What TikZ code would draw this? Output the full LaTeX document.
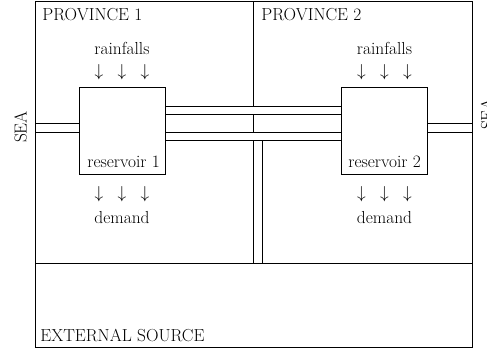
\documentclass[tikz,border=0pt]{standalone}
\begin{document}
\begin{tikzpicture}[x=1pt,y=-1pt, line width=0.7pt,
  txt/.style={font=\fontsize{17.4}{20}\selectfont, inner sep=0pt, anchor=base},
  resbox/.style={draw, minimum width=86pt, minimum height=87pt, inner sep=0pt}]
\useasboundingbox (0,0) rectangle (487,356);
% frame and dividers
\draw (35,1) rectangle (472,347);
\draw (35,263) -- (472,263);
\draw (253,1) -- (253,106);
\draw (253,114) -- (253,132);
% reservoirs
\node[resbox] (r1) at (122,130.5) {};
\node[resbox] (r2) at (384.5,130.5) {};
% sea pipes
\draw (35,123) -- (r1.west |- 0,123);
\draw (35,132) -- (r1.west |- 0,132);
\draw (r2.east |- 0,123) -- (472,123);
\draw (r2.east |- 0,132) -- (472,132);
% connecting pipes
\draw (r1.east |- 0,106) -- (r2.west |- 0,106);
\draw (r1.east |- 0,114) -- (r2.west |- 0,114);
\draw (r1.east |- 0,132) -- (r2.west |- 0,132);
\draw (r1.east |- 0,140) -- (r2.west |- 0,140);
\draw (253,140) -- (253,263);
\draw (262,140) -- (262,263);
% texts
\node[txt, anchor=base west] (p1) at (42,20) {PROVINCE 1};
\node[txt, anchor=base west] (p2) at (261,20) {PROVINCE 2};
\node[txt, anchor=base west] (ext) at (40,341) {EXTERNAL SOURCE};
\node[txt] (rf1) at (122,54) {rainfalls};
\node[txt] (rf2) at (384.5,54) {rainfalls};
\node[txt] (ra1) at (122,76) {$\downarrow$\hspace{14.4pt}$\downarrow$\hspace{14.4pt}$\downarrow$};
\node[txt] (ra2) at (384.5,76) {$\downarrow$\hspace{14.4pt}$\downarrow$\hspace{14.4pt}$\downarrow$};
\node[txt] (da1) at (122,198) {$\downarrow$\hspace{14.4pt}$\downarrow$\hspace{14.4pt}$\downarrow$};
\node[txt] (da2) at (384.5,198) {$\downarrow$\hspace{14.4pt}$\downarrow$\hspace{14.4pt}$\downarrow$};
\node[txt] (d1) at (122,223) {demand};
\node[txt] (d2) at (384.5,223) {demand};
\node[txt, anchor=base west] (l1) at (87,167) {reservoir 1};
\node[txt, anchor=base west] (l2) at (348,167) {reservoir 2};
\node[txt, rotate=90] (s1) at (26.5,127) {SEA};
\node[txt, rotate=90] (s2) at (493,114) {SEA};
\end{tikzpicture}
\end{document}
